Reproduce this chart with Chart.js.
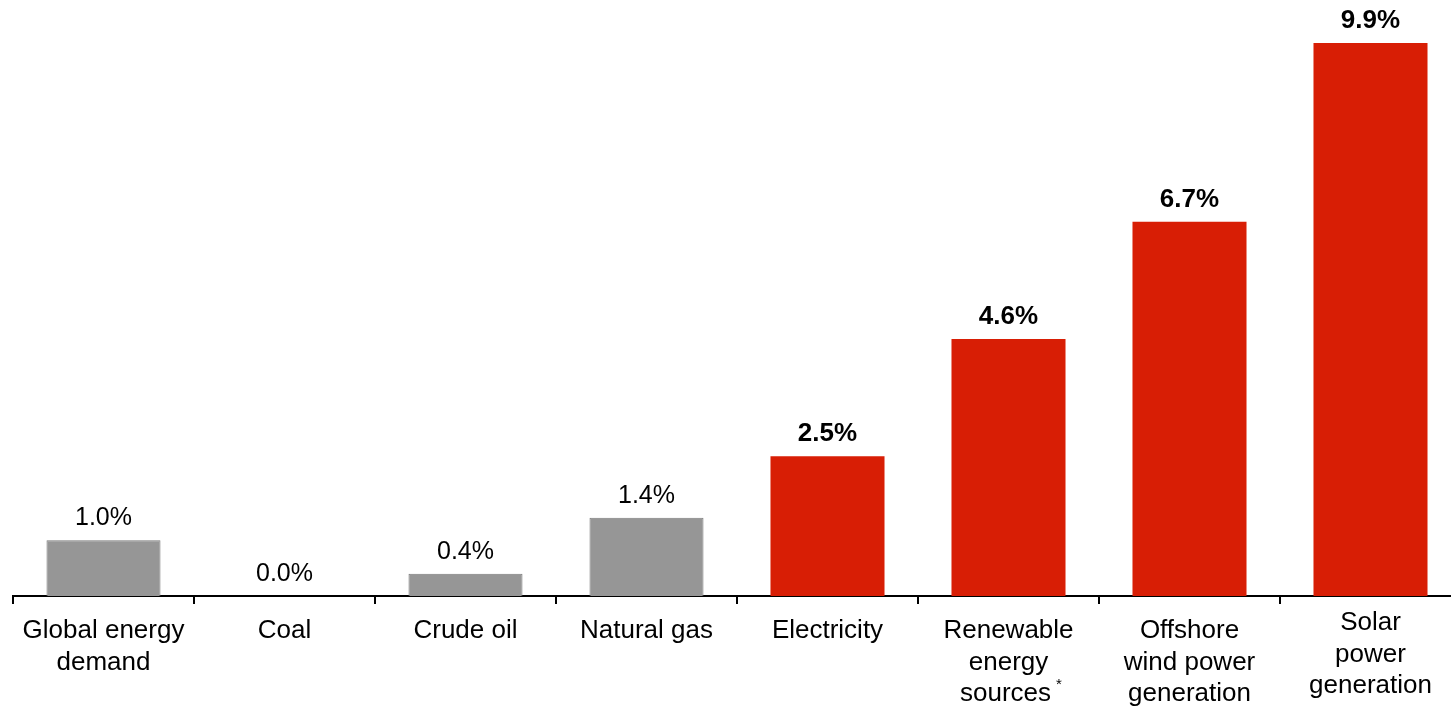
<!DOCTYPE html>
<html>
<head>
<meta charset="utf-8">
<script src="https://cdn.jsdelivr.net/npm/chart.js@4.4.1/dist/chart.umd.min.js"></script>
<style>
  html, body { margin: 0; padding: 0; background: #fff; overflow: hidden; }
  #wrap { width: 1451px; height: 708px; overflow: hidden; position: relative; }
  canvas { display: block; }
</style>
</head>
<body>
<div id="wrap"><canvas id="chart" width="1462" height="708"></canvas></div>
<script>
// Average annual growth, by energy category
const categories = [
  ["Global energy", "demand"],
  ["Coal"],
  ["Crude oil"],
  ["Natural gas"],
  ["Electricity"],
  ["Renewable", "energy", "sources *"],
  ["Offshore", "wind power", "generation"],
  ["Solar", "power", "generation"]
];
const growthValues = [1.0, 0.0, 0.4, 1.4, 2.5, 4.6, 6.7, 9.9];
const valueLabels = ["1.0%", "0.0%", "0.4%", "1.4%", "2.5%", "4.6%", "6.7%", "9.9%"];
const groups = ["conventional", "conventional", "conventional", "conventional",
                "electric", "electric", "electric", "electric"];

const groupStyle = {
  conventional: { fill: "#969696", border: "#7a7a7a", borderWidth: 1, bold: false },
  electric:     { fill: "#d81e05", border: "#d81e05", borderWidth: 0, bold: true }
};

const FONT = "'Liberation Sans', Arial, Helvetica, sans-serif";

const labelPlugin = {
  id: "labels",
  afterDatasetsDraw(chart) {
    const ctx = chart.ctx;
    const meta = chart.getDatasetMeta(0);
    const xScale = chart.scales.x;
    const axisY = xScale.top;
    ctx.save();
    ctx.fillStyle = "#000";
    ctx.textAlign = "center";
    ctx.textBaseline = "alphabetic";
    // value labels above each bar
    meta.data.forEach((bar, i) => {
      const st = groupStyle[groups[i]];
      ctx.font = st.bold ? "bold 26px " + FONT : "25px " + FONT;
      ctx.fillText(valueLabels[i], bar.x, bar.y - 15);
    });
    // category labels under the axis
    const lineH = 31.5;
    categories.forEach((lines, i) => {
      const cx = xScale.getPixelForTick(i);
      const top = axisY + (lines.length === 3 && i === categories.length - 1 ? 27 : 35);
      lines.forEach((line, k) => {
        const y = top + k * lineH;
        ctx.textBaseline = "middle";
        if (line.endsWith("*")) {
          const main = line.replace(/\s*\*$/, "");
          ctx.font = "26px " + FONT;
          ctx.textAlign = "center";
          ctx.fillText(main, cx - 3, y);
          const w = ctx.measureText(main).width;
          ctx.font = "15px " + FONT;
          ctx.textAlign = "left";
          ctx.fillText("*", cx - 3 + w / 2 + 5, y - 9);
        } else {
          ctx.font = "26px " + FONT;
          ctx.textAlign = "center";
          ctx.fillText(line, cx, y);
        }
      });
    });
    ctx.restore();
  }
};

new Chart(document.getElementById("chart"), {
  type: "bar",
  data: {
    labels: categories,
    datasets: [{
      data: growthValues,
      backgroundColor: groups.map(g => groupStyle[g].fill),
      borderColor: groups.map(g => groupStyle[g].border),
      borderWidth: groups.map(g => groupStyle[g].borderWidth),
      borderSkipped: "bottom",
      categoryPercentage: 1.0,
      barPercentage: 0.63
    }]
  },
  options: {
    responsive: false,
    animation: false,
    devicePixelRatio: 1,
    layout: { padding: { left: 13, right: 1, top: 0, bottom: 0 } },
    plugins: { legend: { display: false }, tooltip: { enabled: false } },
    scales: {
      x: {
        offset: true,
        ticks: { display: false },
        grid: {
          display: true,
          offset: true,
          drawOnChartArea: false,
          drawTicks: true,
          tickLength: 8,
          color: "#000",
          lineWidth: 2
        },
        border: { display: true, color: "#000", width: 2 },
        afterFit(scale) { scale.height = 112; }
      },
      y: {
        display: false,
        min: 0,
        max: 10.67
      }
    }
  },
  plugins: [labelPlugin]
});
</script>
</body>
</html>
